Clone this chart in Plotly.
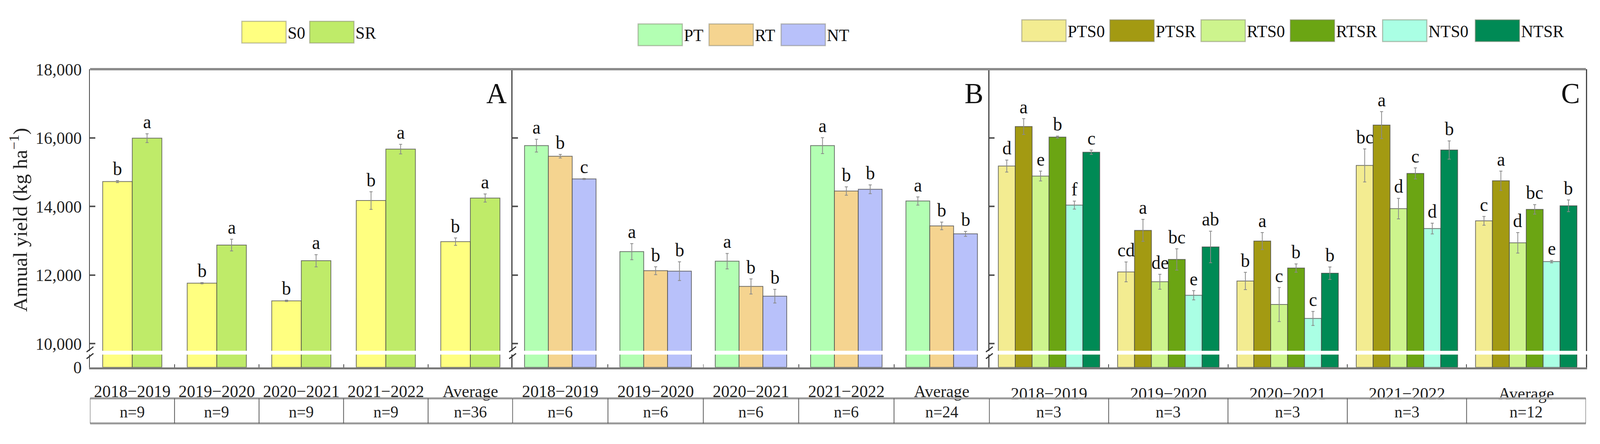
import plotly.graph_objects as go

W, H = 4195, 1136
def PX(x): return x / W
def PY(y): return 1 - y / H

FONT = "Liberation Serif"

years = ["2018−2019", "2019−2020", "2020−2021", "2021−2022", "Average"]

# Panel A: straw management
S0 = [14725, 11764, 11250, 14173, 12975]
S0_err = [30, 18, 20, 257, 107]
S0_let = ["b", "b", "b", "b", "b"]
SR = [15990, 12876, 12419, 15671, 14246]
SR_err = [128, 170, 178, 140, 118]
SR_let = ["a", "a", "a", "a", "a"]
nA = ["n=9", "n=9", "n=9", "n=9", "n=36"]

# Panel B: tillage
PT = [15773, 12684, 12406, 15773, 14160]
PT_err = [186, 235, 225, 231, 120]
PT_let = ["a", "a", "a", "a", "a"]
RT = [15465, 12128, 11670, 14451, 13433]
RT_err = [53, 115, 220, 122, 111]
RT_let = ["b", "b", "b", "b", "b"]
NT = [14802, 12115, 11387, 14502, 13202]
NT_err = [15, 274, 199, 128, 73]
NT_let = ["c", "b", "b", "b", "b"]
nB = ["n=6", "n=6", "n=6", "n=6", "n=24"]

# Panel C: tillage x straw
PTS0 = [15178, 12093, 11828, 15196, 13582]
PTS0_err = [175, 289, 252, 481, 128]
PTS0_let = ["d", "cd", "b", "bc", "c"]
PTSR = [16329, 13304, 12992, 16372, 14750]
PTSR_err = [231, 321, 248, 392, 282]
PTSR_let = ["a", "a", "a", "a", "a"]
RTS0 = [14887, 11807, 11143, 13938, 12941]
RTS0_err = [143, 218, 496, 300, 300]
RTS0_let = ["e", "de", "c", "d", "d"]
RTSR = [16021, 12457, 12205, 14964, 13916]
RTSR_err = [30, 310, 122, 160, 139]
RTSR_let = ["b", "bc", "b", "c", "bc"]
NTS0 = [14040, 11413, 10737, 13356, 12393]
NTS0_err = [118, 135, 205, 156, 36]
NTS0_let = ["f", "e", "c", "d", "e"]
NTSR = [15581, 12821, 12055, 15645, 14019]
NTSR_err = [62, 460, 182, 267, 171]
NTSR_let = ["c", "ab", "b", "b", "b"]
nC = ["n=3", "n=3", "n=3", "n=3", "n=12"]

y_ticks = [10000, 12000, 14000, 16000, 18000]

panels = [
    dict(label="A", x0=236, x1=1344, fill=0.70, n=nA, standoff=18,
         legend_x=[634, 812], legend_y=32,
         series=[("S0", S0, S0_err, S0_let, "#FFFF80"),
                 ("SR", SR, SR_err, SR_let, "#BFEB69")]),
    dict(label="B", x0=1344, x1=2594, fill=0.75, n=nB, standoff=18,
         legend_x=[1673, 1859, 2048], legend_y=39,
         series=[("PT", PT, PT_err, PT_let, "#B3FFB3"),
                 ("RT", RT, RT_err, RT_let, "#F5D490"),
                 ("NT", NT, NT_err, NT_let, "#B8C1FA")]),
    dict(label="C", x0=2594, x1=4158, fill=0.85, n=nC, standoff=24,
         legend_x=[2679, 2910, 3149, 3383, 3625, 3868], legend_y=28,
         series=[("PTS0", PTS0, PTS0_err, PTS0_let, "#F3EC91"),
                 ("PTSR", PTSR, PTSR_err, PTSR_let, "#A39A12"),
                 ("RTS0", RTS0, RTS0_err, RTS0_let, "#CDF48D"),
                 ("RTSR", RTSR, RTSR_err, RTSR_let, "#6BA513"),
                 ("NTS0", NTS0, NTS0_err, NTS0_let, "#AAFFE4"),
                 ("NTSR", NTSR, NTSR_err, NTSR_let, "#008A55")]),
]

TOP, BRK_HI, BRK_LO, BOT = 160, 913, 923, 957
UP_RANGE = [9793, 18000]
LO_RANGE = [0, 370]
TAB_TOP, TAB_BOT, TAB_MID = 1040, 1107, 1076

fig = go.Figure()
layout = dict(width=W, height=H, margin=dict(l=0, r=0, t=0, b=0),
              paper_bgcolor="white", plot_bgcolor="rgba(0,0,0,0)",
              barmode="overlay", showlegend=False,
              font=dict(family=FONT, color="#222"))
shapes, annotations = [], []

for pi, p in enumerate(panels):
    xi = pi + 1
    yu, yl = 2 * pi + 1, 2 * pi + 2
    xname = "x" if xi == 1 else f"x{xi}"
    yuname = "y" if yu == 1 else f"y{yu}"
    ylname = f"y{yl}"
    k = len(p["series"])
    w = p["fill"] / k
    for si, (name, vals, err, lets, col) in enumerate(p["series"]):
        off = -p["fill"] / 2 + si * w
        for yname, with_err in ((yuname, True), (ylname, False)):
            fig.add_trace(go.Bar(
                x=years, y=vals, name=name, width=w, offset=off,
                xaxis=xname, yaxis=yname,
                marker=dict(color=col, line=dict(color="rgba(70,70,70,0.75)", width=2)),
                error_y=dict(type="data", array=err, color="#8a8a8a",
                             thickness=2, width=4, visible=with_err),
                hoverinfo="x+y+name"))
        for gi, (v, e, t) in enumerate(zip(vals, err, lets)):
            annotations.append(dict(
                x=gi + off + w / 2, y=v + e, xref=xname, yref=yuname,
                text=t, showarrow=False, yanchor="bottom", yshift=2,
                font=dict(family=FONT, size=48, color="#111")))
        # legend swatch + label
        lx = p["legend_x"][si]
        ly = p["legend_y"]
        shapes.append(dict(type="rect", xref="paper", yref="paper",
                           x0=PX(lx), x1=PX(lx + 116), y0=PY(ly + 58), y1=PY(ly),
                           fillcolor=col, line=dict(color="rgba(120,120,100,0.45)", width=3)))
        annotations.append(dict(x=PX(lx + 118), y=PY(ly + 31), xref="paper", yref="paper",
                                text=name, showarrow=False, xanchor="left", yanchor="middle",
                                font=dict(family=FONT, size=44, color="#111")))

    first = pi == 0
    last = pi == len(panels) - 1
    layout["xaxis" if xi == 1 else f"xaxis{xi}"] = dict(
        domain=[PX(p["x0"]), PX(p["x1"])], anchor=ylname, type="category",
        range=[-0.5, 4.5], tickson="boundaries", ticks="inside", ticklen=8,
        tickwidth=2, tickcolor="#444", showline=True, linewidth=5,
        linecolor="#7a7a7a", showgrid=False, zeroline=False,
        tickfont=dict(family=FONT, size=44, color="#222"),
        ticklabelstandoff=p["standoff"])
    layout["yaxis" if yu == 1 else f"yaxis{yu}"] = dict(
        domain=[PY(BRK_HI), PY(TOP)], anchor=xname, range=UP_RANGE,
        tickvals=y_ticks, tickformat=",", ticks="inside", ticklen=14,
        tickwidth=4, tickcolor="#555", showline=True, linewidth=3,
        linecolor="#444", mirror=last, showgrid=False, zeroline=False,
        showticklabels=first, ticklabelstandoff=10,
        tickfont=dict(family=FONT, size=44, color="#222"))
    layout[f"yaxis{yl}"] = dict(
        domain=[PY(BOT), PY(BRK_LO)], anchor=xname, range=LO_RANGE,
        tickvals=[0], ticks="", showline=True, linewidth=3,
        linecolor="#444", mirror=last, showgrid=False, zeroline=False,
        showticklabels=first, ticklabelstandoff=10,
        tickfont=dict(family=FONT, size=44, color="#222"))

    # panel letter
    annotations.append(dict(x=PX(p["x1"] - 14), y=PY(180), xref="paper", yref="paper",
                            text=p["label"], showarrow=False, xanchor="right", yanchor="top",
                            font=dict(family=FONT, size=74, color="#111")))
    # axis break marks
    for yb in (909, 927):
        shapes.append(dict(type="line", xref="paper", yref="paper",
                           x0=PX(p["x0"] - 9), y0=PY(yb + 7), x1=PX(p["x0"] + 9), y1=PY(yb - 7),
                           line=dict(color="#333", width=3)))
    # n table
    for yy in (TAB_TOP, TAB_BOT):
        shapes.append(dict(type="line", xref=xname, yref="paper",
                           x0=-0.5, x1=4.5, y0=PY(yy), y1=PY(yy),
                           line=dict(color="#9a9a9a", width=5)))
    for j in range(6):
        shapes.append(dict(type="line", xref=xname, yref="paper",
                           x0=j - 0.5, x1=j - 0.5, y0=PY(TAB_TOP), y1=PY(TAB_BOT),
                           line=dict(color="#555", width=2)))
    for j, t in enumerate(p["n"]):
        annotations.append(dict(x=j, y=PY(TAB_MID), xref=xname, yref="paper", text=t,
                                showarrow=False, yanchor="middle",
                                font=dict(family=FONT, size=42, color="#222")))

# top border
shapes.append(dict(type="line", xref="paper", yref="paper",
                   x0=PX(236), x1=PX(4158), y0=PY(TOP), y1=PY(TOP),
                   line=dict(color="#8c8c8c", width=6)))

# y-axis title
annotations.append(dict(x=PX(50), y=PY(563), xref="paper", yref="paper",
                        text="Annual yield (kg ha<sup>−1</sup>)", textangle=-90,
                        showarrow=False, xanchor="center", yanchor="middle",
                        font=dict(family=FONT, size=52, color="#222")))

layout["shapes"] = shapes
layout["annotations"] = annotations
fig.update_layout(**layout)

fit_js = """
document.documentElement.style.margin='0';
document.documentElement.style.overflow='hidden';
document.body.style.margin='0';
document.body.style.overflow='hidden';
var gd = document.getElementById('{plot_id}');
var vw = window.innerWidth || document.documentElement.clientWidth;
var vh = window.innerHeight || document.documentElement.clientHeight;
if (vw && vh) {
  var sx = vw / 4195, sy = vh / 1136;
  if (Math.abs(sx - 1) > 0.001 || Math.abs(sy - 1) > 0.001) {
    gd.style.transformOrigin = '0 0';
    gd.style.transform = 'scale(' + sx + ',' + sy + ')';
  }
}
"""
fig.write_html("out.html", post_script=fit_js, config={"displayModeBar": False})
